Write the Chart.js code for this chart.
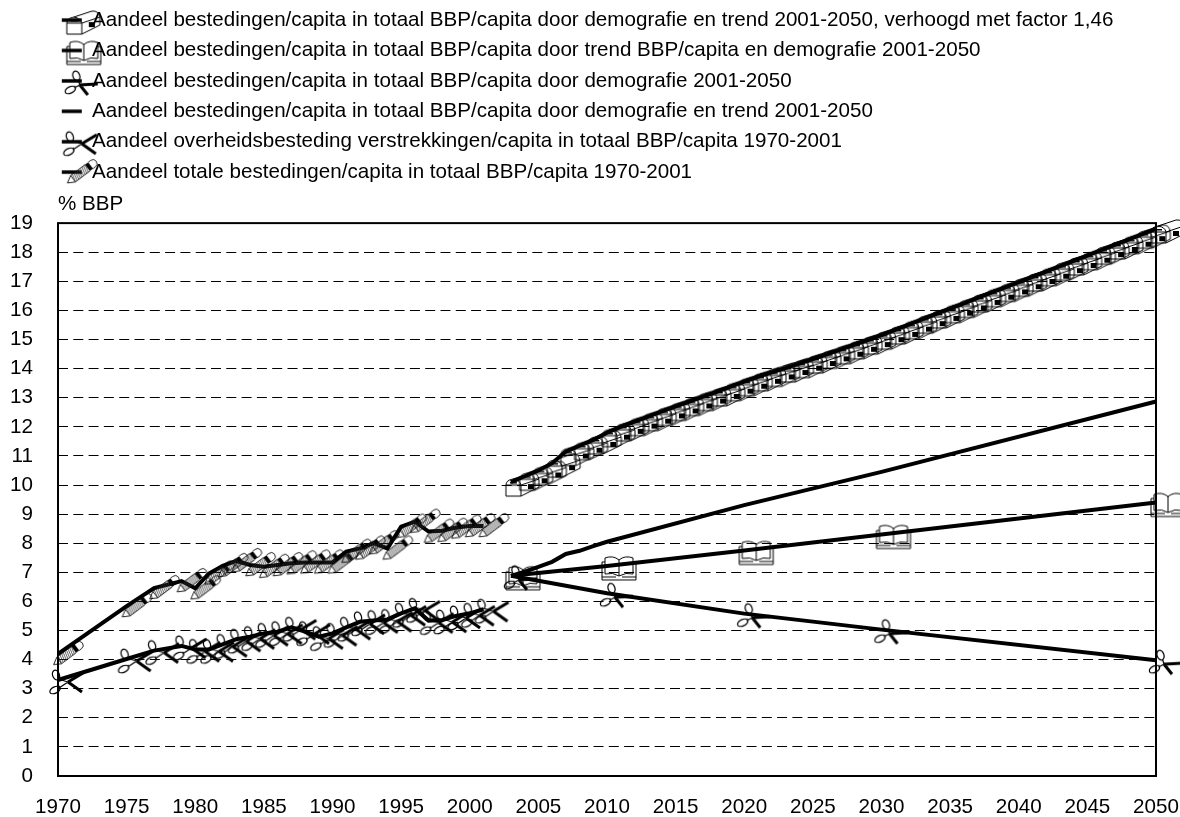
<!DOCTYPE html>
<html>
<head>
<meta charset="utf-8">
<style>
  html, body { margin: 0; padding: 0; background: #fff; }
  canvas { display: block; }
</style>
<script src="https://cdn.jsdelivr.net/npm/chart.js@4/dist/chart.umd.min.js"></script>
</head>
<body>
<canvas id="bbpChart" width="1180" height="817"></canvas>
<script>
const seriesNames = [
  "Aandeel bestedingen/capita in totaal BBP/capita door demografie en trend 2001-2050, verhoogd met factor 1,46",
  "Aandeel bestedingen/capita in totaal BBP/capita door trend BBP/capita en demografie 2001-2050",
  "Aandeel bestedingen/capita in totaal BBP/capita door demografie 2001-2050",
  "Aandeel bestedingen/capita in totaal BBP/capita door demografie en trend 2001-2050",
  "Aandeel overheidsbesteding verstrekkingen/capita in totaal BBP/capita 1970-2001",
  "Aandeel totale bestedingen/capita in totaal BBP/capita 1970-2001"
];

const yearsHistory = [1970, 1975, 1977, 1979, 1980, 1981, 1982, 1983, 1984, 1985, 1986, 1987, 1988, 1989, 1990,
  1991, 1992, 1993, 1994, 1995, 1996, 1997, 1998, 1999, 2000, 2001];
const totalShare = [4.2, 5.84, 6.46, 6.7, 6.45, 6.96, 7.22, 7.39, 7.25, 7.19, 7.25, 7.31, 7.34, 7.34, 7.34,
  7.71, 7.82, 8.0, 7.82, 8.57, 8.74, 8.4, 8.43, 8.54, 8.59, 8.59];
const publicShare = [3.3, 4.02, 4.31, 4.47, 4.35, 4.35, 4.52, 4.7, 4.79, 4.9, 4.96, 5.11, 4.96, 4.79, 4.9,
  5.11, 5.3, 5.34, 5.38, 5.59, 5.76, 5.34, 5.36, 5.5, 5.59, 5.73];

const yearsFactor = [2003, 2004, 2005, 2006, 2007, 2008, 2009, 2010, 2011, 2012, 2013, 2014, 2015, 2016, 2017, 2018,
  2019, 2020, 2021, 2022, 2023, 2024, 2025, 2026, 2027, 2028, 2029, 2030, 2031, 2032, 2033, 2034, 2035, 2036,
  2037, 2038, 2039, 2040, 2041, 2042, 2043, 2044, 2045, 2046, 2047, 2048, 2049, 2050];
const factorShare = [10.1, 10.3, 10.5, 10.75, 11.15, 11.35, 11.55, 11.8, 12.0, 12.18, 12.35, 12.53, 12.7, 12.87, 13.04, 13.2,
  13.38, 13.55, 13.72, 13.87, 14.02, 14.17, 14.33, 14.49, 14.65, 14.82, 14.98, 15.15, 15.33, 15.51, 15.7, 15.88, 16.06, 16.24,
  16.43, 16.61, 16.79, 16.97, 17.15, 17.33, 17.52, 17.7, 17.88, 18.07, 18.25, 18.43, 18.62, 18.8];

const yearsSparse = [2003, 2010, 2020, 2030, 2050];
const trendDemoShare = [6.88, 7.22, 7.75, 8.3, 9.4];
const demoShare = [6.88, 6.28, 5.58, 5.03, 3.98];

const yearsTrend = [2003, 2004, 2005, 2006, 2007, 2008, 2009, 2010, 2020, 2030, 2050];
const demoTrendShare = [6.88, 7.02, 7.19, 7.36, 7.63, 7.74, 7.9, 8.05, 9.31, 10.45, 12.87];

const xTicksFrom = 1970, xTicksTo = 2050, xStep = 5;
const yTicksFrom = 0, yTicksTo = 19, yStep = 1;

function toPoints(xs, ys) {
  return xs.map((x, i) => ({x: x, y: ys[i]}));
}

// the symbols are drawn relative to (0,0), which is where the data point lands
function drawMailbox(c) {
  c.lineWidth = 1;
  c.beginPath();
  c.moveTo(-5, 14);
  c.lineTo(-5, 3);
  c.quadraticCurveTo(-5, -2, 2, -3);
  c.lineTo(20, -9);
  c.quadraticCurveTo(27, -10, 28, -2);
  c.lineTo(28, 5);
  c.lineTo(10, 14);
  c.closePath();
  c.moveTo(10, 14);
  c.lineTo(10, 3);
  c.quadraticCurveTo(9, -2, 2, -3);
  c.moveTo(-5, 3);
  c.lineTo(10, 3);
  c.moveTo(10, 3);
  c.lineTo(28, -3);
  c.stroke();
  c.fillRect(-1, 0, 7, 1.5);
  c.fillRect(17, 2, 6, 5);
}

function drawBook(c) {
  c.lineWidth = 1;
  c.beginPath();
  c.moveTo(12, 10);
  c.quadraticCurveTo(6, 6, -2, 8);
  c.lineTo(-2, -8);
  c.quadraticCurveTo(6, -11, 12, -6);
  c.lineTo(12, 10);
  c.quadraticCurveTo(19, 6, 26, 8);
  c.lineTo(26, -8);
  c.quadraticCurveTo(18, -11, 12, -6);
  c.moveTo(-2, -4);
  c.lineTo(-5, -4);
  c.lineTo(-5, 14);
  c.lineTo(29, 14);
  c.lineTo(29, -4);
  c.lineTo(26, -4);
  c.moveTo(-5, 11);
  c.lineTo(9, 11);
  c.moveTo(15, 11);
  c.lineTo(29, 11);
  c.stroke();
}

function drawScissors(c, upper, lower, pivot, tipA, tipB) {
  c.lineWidth = 1.2;
  c.beginPath();
  c.ellipse(upper[0], upper[1], 5, 3.4, Math.PI / 2.6, 0, 2 * Math.PI);
  c.moveTo(lower[0] + 5, lower[1]);
  c.ellipse(lower[0], lower[1], 5.5, 3.2, -Math.PI / 7, 0, 2 * Math.PI);
  c.moveTo(upper[0] + 2, upper[1] + 4);
  c.lineTo(pivot[0], pivot[1]);
  c.moveTo(lower[0] + 4, lower[1] - 2);
  c.lineTo(pivot[0], pivot[1]);
  c.stroke();
  c.lineWidth = 3;
  c.beginPath();
  c.moveTo(pivot[0], pivot[1]);
  c.lineTo(tipA[0], tipA[1]);
  c.moveTo(pivot[0], pivot[1]);
  c.lineTo(tipB[0], tipB[1]);
  c.stroke();
}

function drawScissorsUpright(c) {
  drawScissors(c, [4.5, -5], [-1.5, 9], [8, 4], [26, 3], [16, 14]);
}

function drawScissorsOpen(c) {
  drawScissors(c, [-2, -5], [-3, 10], [10, 2], [25, -7], [24, 12]);
}

function drawPencil(c) {
  c.save();
  c.translate(10, 0);
  c.rotate(-37 * Math.PI / 180);
  c.lineWidth = 0.8;
  c.beginPath();
  c.moveTo(-18, 0);
  c.lineTo(-11, -4);
  c.lineTo(7, -4);
  c.moveTo(-18, 0);
  c.lineTo(-11, 4);
  c.lineTo(7, 4);
  c.moveTo(-11, -4);
  c.lineTo(-11, 4);
  c.moveTo(11, -4);
  c.lineTo(14, -4);
  c.arc(14, 0, 4, -Math.PI / 2, Math.PI / 2);
  c.lineTo(11, 4);
  c.stroke();
  c.strokeStyle = "#333";
  c.lineWidth = 0.7;
  c.beginPath();
  for (let k = -11; k < 7; k += 2) {
    c.moveTo(k, 4);
    c.lineTo(k + 2, -4);
  }
  c.stroke();
  c.fillStyle = "#000";
  c.fillRect(7, -4, 4, 8);
  c.restore();
}

function drawNothing(c) {}

const glyphs = [drawMailbox, drawBook, drawScissorsUpright, drawNothing, drawScissorsOpen, drawPencil];

function markerCanvas(draw) {
  const cv = document.createElement("canvas");
  cv.width = 80;
  cv.height = 60;
  const c = cv.getContext("2d");
  c.translate(40, 30);
  draw(c);
  return cv;
}

function legendCanvas(draw) {
  const cv = document.createElement("canvas");
  cv.width = 120;
  cv.height = 60;
  const c = cv.getContext("2d");
  c.translate(86, 30);
  c.lineWidth = 3.5;
  c.beginPath();
  c.moveTo(-10, 0);
  c.lineTo(10, 0);
  c.stroke();
  draw(c);
  return cv;
}

const seriesPoints = [
  toPoints(yearsFactor, factorShare),
  toPoints(yearsSparse, trendDemoShare),
  toPoints(yearsSparse, demoShare),
  toPoints(yearsTrend, demoTrendShare),
  toPoints(yearsHistory, publicShare),
  toPoints(yearsHistory, totalShare)
];

const datasets = seriesNames.map((name, i) => ({
  label: name,
  data: seriesPoints[i],
  borderColor: "#000",
  backgroundColor: "#000",
  borderWidth: 4,
  tension: 0,
  fill: false,
  clip: false,
  pointRadius: glyphs[i] === drawNothing ? 0 : 3,
  pointStyle: markerCanvas(glyphs[i])
}));

const frame = {
  id: "frame",
  afterLayout(chart) {
    // % BBP starts at the plot's left edge, not at the canvas edge
    chart.titleBlock.left = chart.chartArea.left;
  },
  beforeDatasetsDraw(chart) {
    const { ctx, chartArea: {top, left, width, height} } = chart;
    ctx.save();
    ctx.strokeStyle = "#000";
    ctx.lineWidth = 2;
    ctx.strokeRect(left, top, width, height);
    ctx.restore();
  }
};

const fontSpec = { family: "'Liberation Sans', Arial, sans-serif", size: 20.6 };

const myChart = new Chart(document.getElementById("bbpChart"), {
  type: "line",
  data: { datasets: datasets },
  plugins: [frame],
  options: {
    responsive: false,
    animation: false,
    layout: { padding: 0 },
    plugins: {
      tooltip: { enabled: false },
      legend: {
        position: "top",
        align: "start",
        labels: {
          color: "#000",
          font: fontSpec,
          padding: 9.8,
          usePointStyle: true,
          pointStyleWidth: 72,
          generateLabels(chart) {
            return chart.data.datasets.map((ds, i) => ({
              text: ds.label,
              datasetIndex: i,
              hidden: false,
              fontColor: "#000",
              lineWidth: 0,
              pointStyle: legendCanvas(glyphs[i])
            }));
          }
        }
      },
      title: {
        display: true,
        text: "% BBP",
        align: "start",
        weight: 500,
        color: "#000",
        font: { family: fontSpec.family, size: 20.6, weight: "normal" },
        padding: { top: 0, bottom: 6 }
      }
    },
    scales: {
      x: {
        type: "linear",
        min: xTicksFrom,
        max: xTicksTo,
        afterFit(axis) {
          axis.height = 41;
          // leave room on the right for the marks that run past 2050
          axis.paddingLeft = 0;
          axis.paddingRight = 24;
        },
        afterBuildTicks(axis) {
          axis.ticks = [];
          for (let v = xTicksFrom; v <= xTicksTo; v += xStep) axis.ticks.push({ value: v });
        },
        ticks: {
          color: "#000",
          font: fontSpec,
          padding: 19,
          maxRotation: 0,
          autoSkip: false,
          callback: (v) => String(v)
        },
        grid: { display: false, drawTicks: false },
        border: { display: false }
      },
      y: {
        min: yTicksFrom,
        max: yTicksTo,
        afterFit(axis) { axis.width = 58; },
        ticks: {
          color: "#000",
          font: fontSpec,
          padding: 25,
          stepSize: yStep,
          autoSkip: false
        },
        grid: { color: "#000", lineWidth: 1, drawTicks: false },
        border: { display: false, dash: [10, 5.3] }
      }
    }
  }
});
</script>
</body>
</html>
